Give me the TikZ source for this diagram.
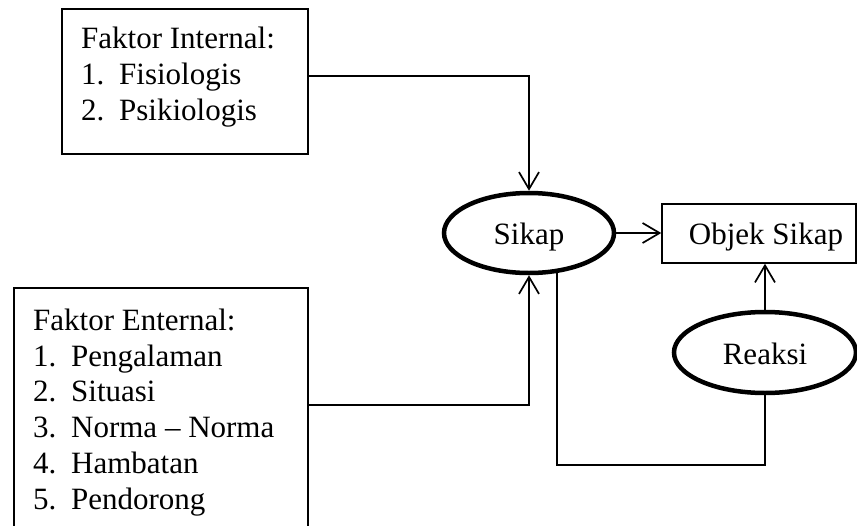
\documentclass[tikz,border=0pt]{standalone}
\usepackage{fontspec}
\setmainfont{Liberation Serif}
\usetikzlibrary{arrows.meta,shapes.geometric}
\begin{document}
\begin{tikzpicture}[x=1pt,y=-1pt,
  box/.style={draw,line width=1.5pt,inner sep=0pt},
  txt/.style={inner sep=0pt,align=left,font=\fontsize{31}{35.7}\selectfont},
  oval/.style={draw,ellipse,line width=4.5pt,inner sep=0pt,text height=23pt,text depth=0pt,font=\fontsize{31}{35.7}\selectfont},
  conn/.style={line width=1.7pt},
  arr/.style={conn,-{Straight Barb[length=17pt,width=20pt,line width=1.7pt]}}
]
\fill[white] (0,0) rectangle (857,525);
\useasboundingbox (0,0) rectangle (857,525);
\coordinate (c1) at (0,76);
\coordinate (c2) at (0,405);
\coordinate (c4) at (0,465);

\node[box,minimum width=246,minimum height=145] (box1) at (185,81.5) {};
\node[txt,anchor=north west] (t1) at (81,27.1) {Faktor Internal:\\\makebox[38pt][l]{1.}Fisiologis\\\makebox[38pt][l]{2.}Psikiologis};

\node[box,minimum width=294,minimum height=262] (box2) at (161,419) {};
\node[txt,anchor=north west] (t2) at (33,308.8) {Faktor Enternal:\\\makebox[38pt][l]{1.}Pengalaman\\\makebox[38pt][l]{2.}Situasi\\\makebox[38pt][l]{3.}Norma -- Norma\\\makebox[38pt][l]{4.}Hambatan\\\makebox[38pt][l]{5.}Pendorong};

\node[oval,minimum width=170,minimum height=80] (sikap) at (529,233) {Sikap};
\node[box,minimum width=194,minimum height=59] (objek) at (759,233.5) {};
\node[txt,anchor=base] (tobjek) at (766,244) {Objek Sikap};
\node[oval,minimum width=182,minimum height=81] (reaksi) at (765,352.5) {Reaksi};

\draw[arr] (box1.east |- c1) -| (sikap.north);
\draw[arr] (box2.east |- c2) -| (sikap.south);
\draw[arr] (sikap.east) -- (sikap.east -| objek.west);
\draw[arr] (reaksi.north) -- (reaksi.north |- objek.south);
\draw[conn] (sikap.-55) -- (sikap.-55 |- c4) -| (reaksi.south);
\end{tikzpicture}
\end{document}
